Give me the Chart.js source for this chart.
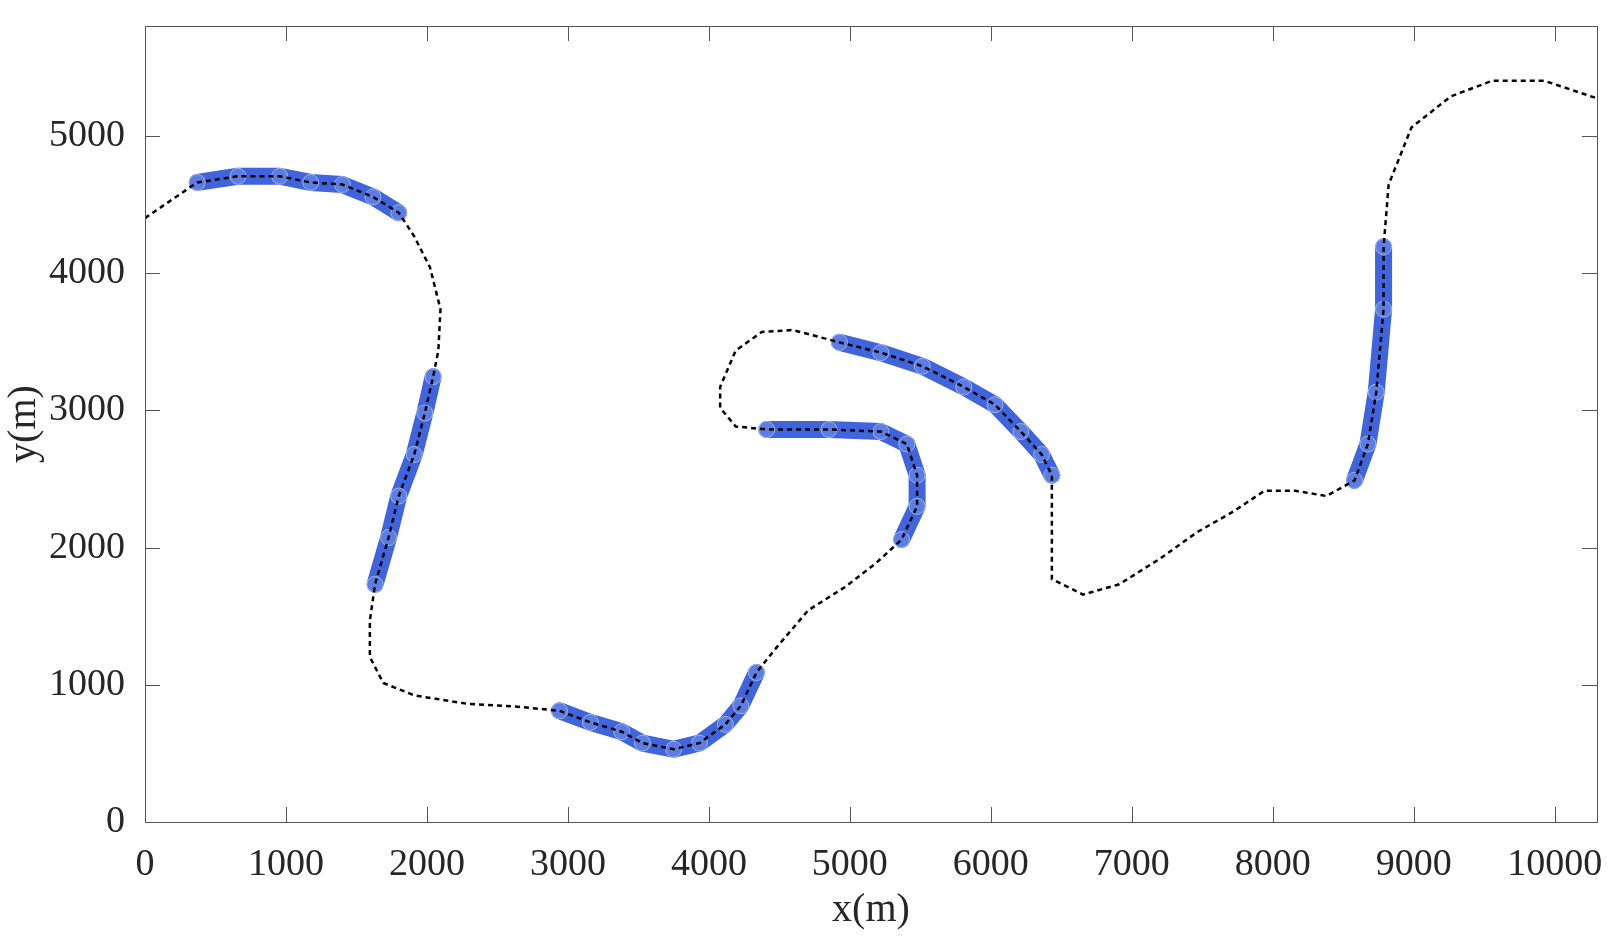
<!DOCTYPE html>
<html>
<head>
<meta charset="utf-8">
<script src="https://cdn.jsdelivr.net/npm/chart.js@4"></script>
<style>
html, body { margin: 0; padding: 0; background: #fff; }
#wrap { width: 1623px; height: 942px; }
</style>
</head>
<body>
<div id="wrap"><canvas id="c"></canvas></div>
<script>
// trajectory (x, y in metres)
const pathX = [0, 370, 660, 955, 1175, 1400, 1617, 1800, 1910, 2022, 2096, 2081, 2044, 1985, 1910, 1800, 1728, 1632, 1595, 1595, 1690, 1910, 2280, 2647, 2940, 3160, 3382, 3529, 3750, 3933, 4117, 4227, 4337, 4485, 4705, 4963, 5183, 5367, 5477, 5477, 5404, 5220, 4852, 4410, 4190, 4080, 4080, 4190, 4375, 4595, 4926, 5220, 5514, 5808, 6029, 6213, 6360, 6433, 6433, 6654, 6911, 7205, 7462, 7720, 7940, 8161, 8381, 8580, 8675, 8734, 8786, 8786, 8822, 8984, 9264, 9558, 9926, 10300];
const pathY = [4400, 4660, 4705, 4705, 4660, 4645, 4555, 4440, 4267, 4040, 3737, 3435, 3245, 2980, 2678, 2375, 2073, 1732, 1467, 1203, 1013, 923, 862, 840, 810, 726, 658, 575, 530, 575, 711, 847, 1089, 1278, 1543, 1710, 1884, 2058, 2300, 2527, 2754, 2845, 2860, 2860, 2882, 3018, 3170, 3435, 3570, 3585, 3495, 3420, 3321, 3170, 3041, 2845, 2678, 2527, 1770, 1657, 1732, 1922, 2111, 2262, 2413, 2413, 2375, 2489, 2754, 3132, 3737, 4191, 4645, 5061, 5288, 5401, 5401, 5273];
// index ranges of the path covered by detections (blue)
const detectStart = [1, 12, 24, 37, 50, 67];
const detectEnd = [7, 17, 32, 43, 57, 71];
const xTicks = [0, 1000, 2000, 3000, 4000, 5000, 6000, 7000, 8000, 9000, 10000];
const yTicks = [0, 1000, 2000, 3000, 4000, 5000];

const path = pathX.map((x, i) => ({x, y: pathY[i]}));
const detect = [];
detectStart.forEach((s, k) => {
  for (let i = s; i <= detectEnd[k]; i++) detect.push(path[i]);
  detect.push({x: null, y: null});
});

const frame = {
  id: "frame",
  afterDraw(chart) {
    const {ctx, chartArea: a, scales} = chart;
    ctx.save();
    ctx.strokeStyle = "#555";
    ctx.lineWidth = 1;
    ctx.strokeRect(a.left + 0.5, a.top + 0.5, a.right - a.left, a.bottom - a.top);
    xTicks.forEach(v => {
      const p = Math.round(scales.x.getPixelForValue(v)) + 0.5;
      ctx.beginPath();
      ctx.moveTo(p, a.bottom); ctx.lineTo(p, a.bottom - 15);
      ctx.moveTo(p, a.top); ctx.lineTo(p, a.top + 15);
      ctx.stroke();
    });
    yTicks.forEach(v => {
      const p = Math.round(scales.y.getPixelForValue(v)) + 0.5;
      ctx.beginPath();
      ctx.moveTo(a.left, p); ctx.lineTo(a.left + 15, p);
      ctx.moveTo(a.right, p); ctx.lineTo(a.right - 15, p);
      ctx.stroke();
    });
    ctx.restore();
  }
};

const font = {family: "Liberation Serif", size: 38};
const plain = v => String(v);

new Chart(document.getElementById("c"), {
  type: "scatter",
  data: {
    datasets: [
      {
        data: path, showLine: true, borderColor: "#000", borderWidth: 2.5,
        borderDash: [5, 4], pointRadius: 0, order: 1
      },
      {
        data: detect, showLine: true, spanGaps: false, borderColor: "#3f64dc",
        borderWidth: 17, borderCapStyle: "round", borderJoinStyle: "round",
        pointRadius: 8, pointBackgroundColor: "rgba(120,150,235,0.5)",
        pointBorderColor: "#9fb3ef", pointBorderWidth: 1, order: 2
      }
    ]
  },
  options: {
    responsive: true, maintainAspectRatio: false, animation: false,
    layout: {padding: {top: 26, right: 26, left: 0, bottom: 0}},
    plugins: {legend: {display: false}, tooltip: {enabled: false}},
    scales: {
      x: {
        type: "linear", min: 0, max: 10300,
        afterBuildTicks: s => { s.ticks = xTicks.map(v => ({value: v})); },
        afterFit: s => { s.height = 120; s.paddingLeft = 0; s.paddingRight = 0; },
        grid: {display: false}, border: {display: false},
        ticks: {font, color: "#262626", padding: 12, maxRotation: 0, callback: plain},
        title: {display: true, text: "x(m)", font: {family: "Liberation Serif", size: 40}, color: "#262626", padding: {top: 0, bottom: 8}}
      },
      y: {
        type: "linear", min: 0, max: 5800,
        afterBuildTicks: s => { s.ticks = yTicks.map(v => ({value: v})); },
        afterFit: s => { s.width = 145; s.paddingTop = 0; s.paddingBottom = 0; },
        grid: {display: false}, border: {display: false},
        ticks: {font, color: "#262626", padding: 12, callback: plain},
        title: {display: true, text: "y(m)", font: {family: "Liberation Serif", size: 40}, color: "#262626", padding: {top: 0, bottom: 0}}
      }
    }
  },
  plugins: [frame]
});
</script>
</body>
</html>
